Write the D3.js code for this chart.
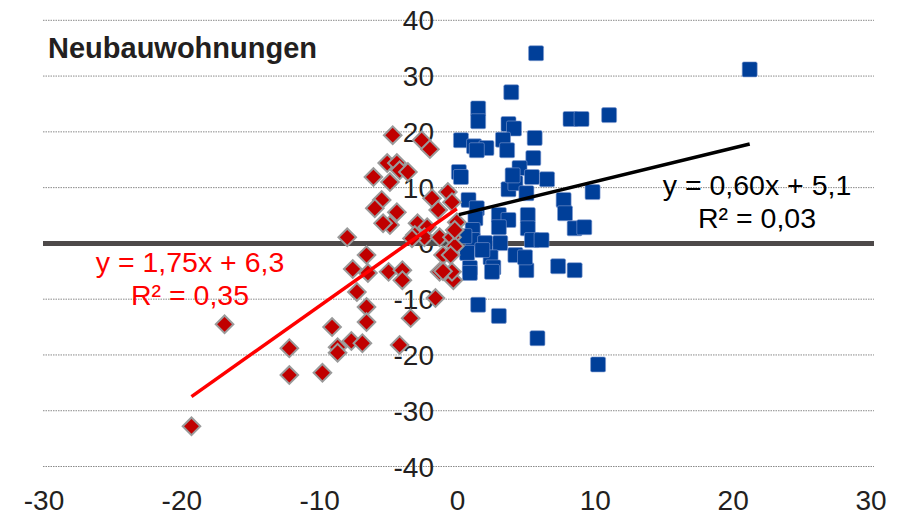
<!DOCTYPE html>
<html>
<head>
<meta charset="utf-8">
<script src="https://cdn.jsdelivr.net/npm/d3@7"></script>
<style>
  body { margin: 0; background: #fff; }
  svg text { font-family: "Liberation Sans", Arial, sans-serif; }
</style>
</head>
<body>
<div id="chart"></div>
<script>
// data
const title = "Neubauwohnungen";
const xTicks = [-30, -20, -10, 0, 10, 20, 30];
const yTicks = [-40, -30, -20, -10, 0, 10, 20, 30, 40];

const blueX = [5.7, 21.2, 3.9, 1.5, 1.5, 3.7, 4.1, 5.6, 11.0, 8.2, 9.0, 0.25, 1.2, 2.1, 3.3, 3.6,
  5.5, 4.5, 5.4, 6.5, 0.1, 0.25, 3.7, 4.2, 5.0, 9.8, 7.7, 7.8, 8.5, 9.2, 0.8, 1.4, 3.0, 3.7, 3.0,
  5.1, 5.1, 1.3, 1.1, 1.1, 2.0, 3.1, 0.7, 2.4, 2.6, 4.2, 5.0, 5.4, 6.1, 7.3, 8.5, 0.9, 0.9, 2.5,
  1.5, 3.0, 5.8, 10.2, 1.4, 4.0, 1.8, 0.5, 4.9];
const blueY = [34.1, 31.2, 27.1, 24.2, 21.9, 21.4, 20.6, 18.9, 23.0, 22.3, 22.3, 18.5, 17.4, 17.1, 18.6, 16.7,
  15.3, 13.5, 11.9, 11.5, 12.8, 11.9, 9.7, 10.8, 9.0, 9.2, 7.8, 5.4, 2.7, 2.9, 7.8, 6.3, 5.1, 4.2, 2.9,
  5.1, 2.7, 4.5, 2.4, 0.6, 0.05, 0.05, -1.7, -2.5, -4.3, -2.1, -4.8, 0.6, 0.6, -4.1, -4.8, -4.4, -5.3, -5.1,
  -11.0, -13.0, -17.0, -21.7, 16.7, 12.2, -1.2, 1.3, -2.5];

const redX = [-4.7, -2.6, -2.0, -5.1, -4.4, -4.2, -4.9, -6.1, -3.6, -5.5, -6.0, -4.4, -4.9, -5.4, -8.0,
  -1.85, -0.7, -0.4, -1.4, -0.05, -2.9, -2.2, -3.1, -2.4, -1.3, -0.4, -3.3, -6.6, -7.6, -6.5, -5.0,
  -4.0, -4.0, -7.3, -6.6, -6.6, -3.4, -1.6, -1.05, -1.3, -0.3, -0.4, -7.7, -6.9, -8.7, -8.7, -4.2,
  -9.1, -12.2, -12.2, -9.8, -16.9, -19.3, -1.05, -0.2, -0.5, -0.2];
const redY = [19.4, 18.5, 16.9, 14.4, 14.4, 13.1, 11.0, 11.9, 12.8, 7.8, 6.3, 5.6, 3.3, 3.6, 1.1,
  8.1, 9.2, 7.4, 6.0, 3.8, 3.6, 2.9, 1.5, 1.1, 1.1, 1.1, 0.9, -2.1, -4.6, -5.3, -5.1,
  -4.8, -6.6, -8.7, -11.4, -14.1, -13.4, -9.8, -2.1, -5.1, -6.6, -5.1, -17.5, -17.9, -18.6, -19.6, -18.2,
  -15.0, -18.8, -23.6, -23.2, -14.5, -32.8, -5.0, -0.5, -2.1, 2.4];

// trend lines: [slope, intercept]
const redTrend = [1.75, 6.3];
const blueTrend = [0.60, 5.1];
const redLabel = ["y = 1,75x + 6,3", "R² = 0,35"];
const blueLabel = ["y = 0,60x + 5,1", "R² = 0,03"];

const W = 907, H = 517;
const x = d3.scaleLinear().domain([-30, 30]).range([44, 871]);
const y = d3.scaleLinear().domain([-40, 40]).range([466.5, 20.3]);

const svg = d3.select("#chart").append("svg")
    .attr("width", W)
    .attr("height", H);

// dotted gridlines
svg.append("g")
    .selectAll("line")
    .data(yTicks.filter(d => d !== 0)).enter()
    .append("line")
    .attr("x1", 43).attr("x2", 874)
    .attr("y1", d => y(d)).attr("y2", d => y(d))
    .attr("stroke", "#8a8a8a")
    .attr("stroke-width", 1)
    .attr("stroke-dasharray", "1.5,1");

// y tick labels sit left of the x=0 axis
svg.append("g")
    .selectAll("text")
    .data(yTicks).enter()
    .append("text")
    .attr("x", 434)
    .attr("y", d => y(d) + 10)
    .attr("text-anchor", "end")
    .attr("font-size", 28)
    .attr("fill", "#231f20")
    .text(d => d);

// x tick labels
svg.append("g")
    .selectAll("text")
    .data(xTicks).enter()
    .append("text")
    .attr("x", d => x(d))
    .attr("y", 510)
    .attr("text-anchor", "middle")
    .attr("font-size", 28)
    .attr("fill", "#231f20")
    .text(d => d);

// zero line
svg.append("line")
    .attr("x1", 43).attr("x2", 874)
    .attr("y1", y(0)).attr("y2", y(0))
    .attr("stroke", "#4d4949")
    .attr("stroke-width", 5);

const blue = blueX.map((v, i) => ({x: v, y: blueY[i]}));
const red = redX.map((v, i) => ({x: v, y: redY[i]}));

svg.append("g")
    .selectAll("rect")
    .data(blue).enter()
    .append("rect")
    .attr("x", d => x(d.x) - 7.5)
    .attr("y", d => y(d.y) - 7.5)
    .attr("width", 15)
    .attr("height", 15)
    .attr("rx", 1.5)
    .attr("fill", "#003f99")
    .attr("stroke", "#7f9bd0")
    .attr("stroke-width", 0.6);

svg.append("g")
    .selectAll("path")
    .data(red).enter()
    .append("path")
    .attr("d", d3.symbol().type(d3.symbolSquare).size(155))
    .attr("transform", d => "translate(" + x(d.x) + "," + y(d.y) + ") rotate(45)")
    .attr("fill", "#c00000")
    .attr("stroke", "#9a9a9a")
    .attr("stroke-width", 2);

// trend lines over each series' x extent
function trend(data, coef, color) {
    const ext = d3.extent(data, d => d.x);
    const pts = ext.map(v => ({x: v, y: coef[0] * v + coef[1]}));
    svg.append("path")
        .datum(pts)
        .attr("fill", "none")
        .attr("stroke", color)
        .attr("stroke-width", 3.5)
        .attr("d", d3.line().x(d => x(d.x)).y(d => y(d.y)));
}
trend(red, redTrend, "#ff0000");
trend(blue, blueTrend, "#000000");

// equation labels
function label(lines, cx, by, color) {
    svg.append("g")
        .selectAll("text")
        .data(lines).enter()
        .append("text")
        .attr("x", cx)
        .attr("y", (d, i) => by + i * 33)
        .attr("text-anchor", "middle")
        .attr("font-size", 28.5)
        .attr("fill", color)
        .text(d => d);
}
label(redLabel, 190, 272, "#ff0000");
label(blueLabel, 757, 195, "#000000");

svg.append("text")
    .attr("x", 48)
    .attr("y", 58)
    .attr("font-size", 29)
    .attr("font-weight", "bold")
    .attr("fill", "#231f20")
    .text(title);
</script>
</body>
</html>
